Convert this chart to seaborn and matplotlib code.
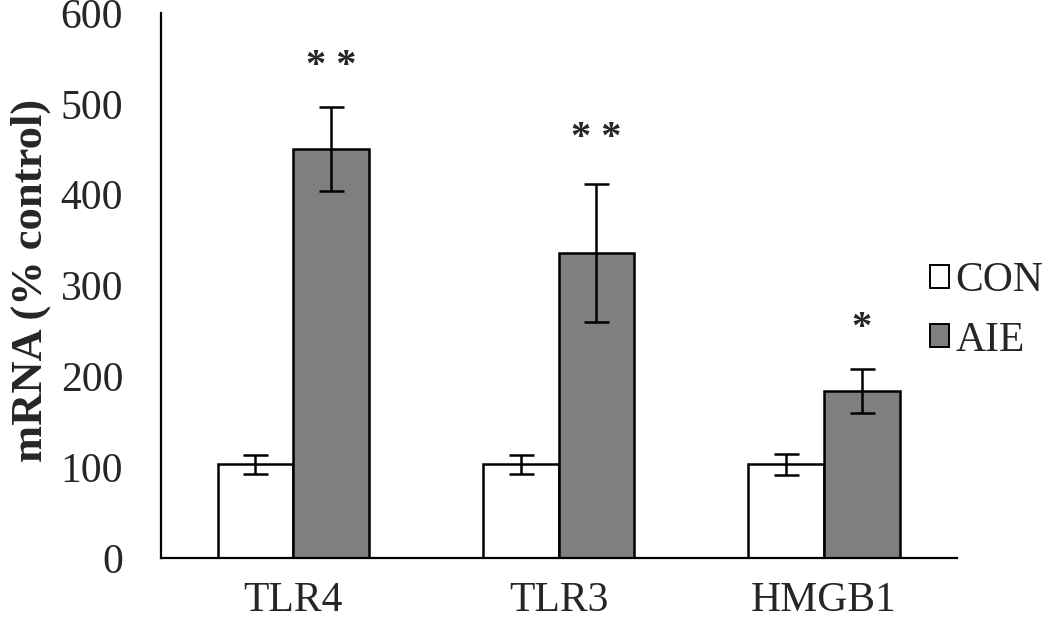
import matplotlib
matplotlib.use("Agg")
import matplotlib.pyplot as plt
import pandas as pd
import seaborn as sns

# Data
genes = ["TLR4", "TLR3", "HMGB1"]
groups = ["CON", "AIE"]
con_mean = [103, 103, 103]
con_err = [10, 10, 12]
aie_mean = [450, 336, 184]
aie_err = [46, 76, 24]
stars = ["* *", "* *", "*"]
star_y = [541, 462, 253]
y_ticks = [0, 100, 200, 300, 400, 500, 600]

df = pd.DataFrame({
    "gene": genes * 2,
    "group": ["CON"] * 3 + ["AIE"] * 3,
    "value": con_mean + aie_mean,
})
errs = {"CON": con_err, "AIE": aie_err}

sns.set_style("white")
plt.rcParams["font.family"] = ["Liberation Serif", "DejaVu Serif"]

fig = plt.figure(figsize=(10.5, 6.2), dpi=100)
ax = fig.add_axes([0.153, 0.1, 0.758, 0.879])

sns.barplot(data=df, x="gene", y="value", hue="group", order=genes,
            hue_order=groups, palette={"CON": "white", "AIE": "#7f7f7f"},
            edgecolor="black", linewidth=1.8, width=0.57, gap=0,
            errorbar=None, legend=False, ax=ax)

# error bars from the drawn bars
for cont, grp in zip(ax.containers, groups):
    for bar, e in zip(cont, errs[grp]):
        cx = bar.get_x() + bar.get_width() / 2
        ax.errorbar(cx, bar.get_height(), yerr=e, color="black",
                    capsize=9, capthick=1.8, elinewidth=1.8, zorder=5)

# significance stars above AIE bars
for bar, s, sy in zip(ax.containers[1], stars, star_y):
    ax.text(bar.get_x() + bar.get_width() / 2, sy, s, ha="center",
            va="center", fontsize=29, fontweight="bold")

ax.set_xlim(-0.5, 2.5)
ax.set_ylim(0, 600)
ax.set_yticks(y_ticks)
ax.set_xticks([-0.5, 0.5, 1.5, 2.5])
ax.set_xticklabels([])
ax.set_xticks([0, 1, 2], minor=True)
ax.set_xticklabels(genes, minor=True)
ax.tick_params(axis="x", which="minor", length=0, pad=17, labelsize=30)
ax.tick_params(axis="x", which="major", direction="out", length=11, width=1.6)
ax.tick_params(axis="y", direction="out", length=9, width=1.6, labelsize=30, pad=18)
ax.set_xlabel("")
ax.set_ylabel("mRNA (% control)", fontsize=32, fontweight="bold", va="center")
ax.yaxis.set_label_coords(-0.163, 0.51)

for side in ["top", "right"]:
    ax.spines[side].set_visible(False)
for side in ["left", "bottom"]:
    ax.spines[side].set_linewidth(1.6)
    ax.spines[side].set_color("black")

handles = [plt.Rectangle((0, 0), 1, 1, facecolor=c, edgecolor="black", linewidth=1.4)
           for c in ["white", "#7f7f7f"]]
fig.legend(handles, groups, loc="center left", bbox_to_anchor=(0.886, 0.499),
           frameon=False, fontsize=30, handlelength=0.45, handleheight=0.45,
           handletextpad=0.15, labelspacing=0.5, borderpad=0, borderaxespad=0)

fig.savefig("out.png", dpi=100, facecolor="white")
